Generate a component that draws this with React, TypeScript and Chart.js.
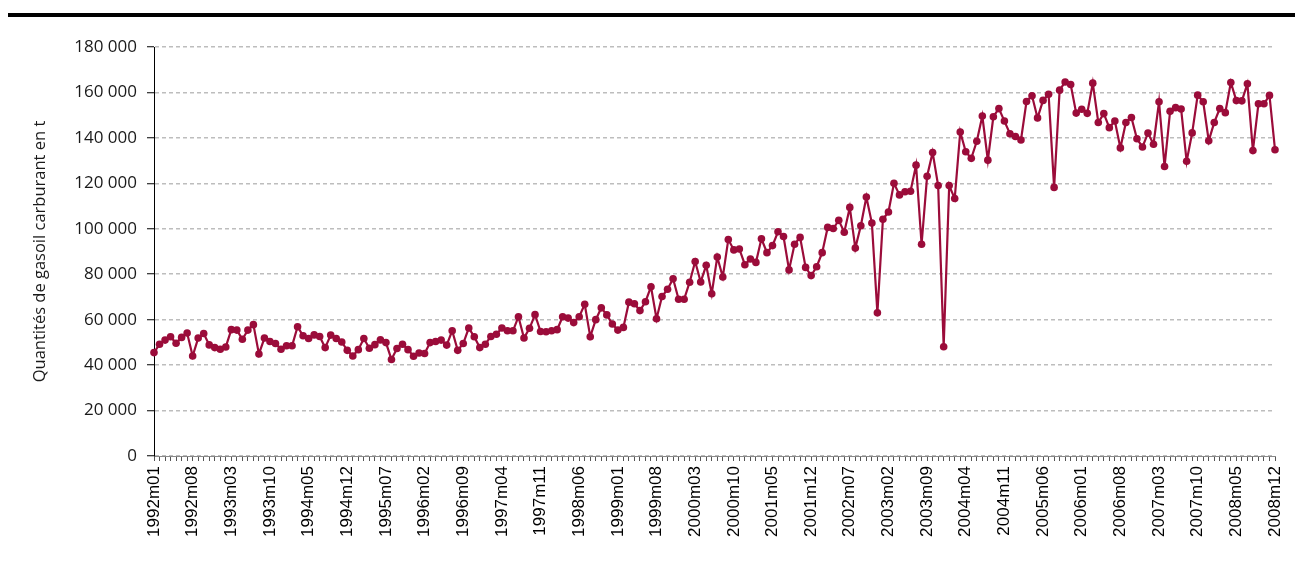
import React, { useEffect, useRef } from "react";
import { Chart, registerables } from "chart.js";

Chart.register(...registerables);

const years = [1992, 1993, 1994, 1995, 1996, 1997, 1998, 1999, 2000, 2001, 2002, 2003, 2004, 2005, 2006, 2007, 2008];
const months = ["01", "02", "03", "04", "05", "06", "07", "08", "09", "10", "11", "12"];
const categories = years.flatMap((y) => months.map((m) => `${y}m${m}`));

const tickLabels = [
  "1992m01", "1992m08", "1993m03", "1993m10", "1994m05", "1994m12", "1995m07", "1996m02",
  "1996m09", "1997m04", "1997m11", "1998m06", "1999m01", "1999m08", "2000m03", "2000m10",
  "2001m05", "2001m12", "2002m07", "2003m02", "2003m09", "2004m04", "2004m11", "2005m06",
  "2006m01", "2006m08", "2007m03", "2007m10", "2008m05", "2008m12",
];

const yTicks = [0, 20000, 40000, 60000, 80000, 100000, 120000, 140000, 160000, 180000];

const v1992 = [45500, 49200, 51000, 52500, 49600, 52200, 54100, 44000, 51900, 53900, 48900, 47700];
const v1993 = [47000, 48000, 55600, 55400, 51400, 55400, 57800, 44900, 51900, 50400, 49500, 47000];
const v1994 = [48500, 48500, 56900, 52900, 51700, 53300, 52600, 47700, 53200, 51700, 50200, 46500];
const v1995 = [44000, 46800, 51700, 47400, 49000, 51100, 49900, 42500, 47300, 49200, 46800, 43900];
const v1996 = [45300, 45100, 49900, 50400, 51000, 48800, 55100, 46500, 49500, 56300, 52500, 47700];
const v1997 = [49200, 52600, 53600, 56300, 55100, 55100, 61300, 51900, 56200, 62200, 54800, 54700];
const v1998 = [55100, 55600, 61300, 60700, 58700, 61300, 66800, 52500, 60000, 65200, 62100, 58100];
const v1999 = [55400, 56600, 67700, 67000, 64000, 67900, 74500, 60400, 70200, 73400, 78000, 69000];
const v2000 = [69000, 76500, 85600, 76600, 83900, 71400, 87600, 78800, 95300, 90700, 91100, 84200];
const v2001 = [86700, 85200, 95600, 89500, 92600, 98700, 96600, 81900, 93200, 96200, 83000, 79400];
const v2002 = [83300, 89500, 100600, 100100, 103700, 98500, 109400, 91500, 101300, 114000, 102500, 63000];
const v2003 = [104200, 107400, 120000, 114900, 116300, 116500, 128000, 93200, 123100, 133600, 119000, 48100];
const v2004 = [119000, 113300, 142600, 133900, 131000, 138500, 149600, 130200, 149300, 152900, 147400, 141800];
const v2005 = [140600, 139100, 156000, 158500, 148800, 156500, 159200, 118200, 161000, 164600, 163500, 150900];
const v2006 = [152600, 150800, 164100, 146800, 150700, 144500, 147400, 135600, 146800, 149000, 139600, 136000];
const v2007 = [142100, 137200, 155900, 127400, 151700, 153300, 152700, 129700, 142200, 158800, 155900, 138700];
const v2008 = [146800, 152900, 151100, 164400, 156400, 156300, 163800, 134400, 155000, 155000, 158700, 134800];

const values = [
  ...v1992, ...v1993, ...v1994, ...v1995, ...v1996, ...v1997, ...v1998, ...v1999, ...v2000,
  ...v2001, ...v2002, ...v2003, ...v2004, ...v2005, ...v2006, ...v2007, ...v2008,
];

const fmt = (v: number) => String(Math.round(v)).replace(/\B(?=(\d{3})+(?!\d))/g, " ");

export default function App() {
  const ref = useRef<HTMLCanvasElement | null>(null);

  useEffect(() => {
    if (!ref.current) return;
    const shown = new Set(tickLabels);
    const color = "#9b0c3a";
    const chart = new Chart(ref.current, {
      type: "line",
      data: {
        labels: categories,
        datasets: [
          {
            data: values,
            borderColor: color,
            backgroundColor: color,
            borderWidth: 2.2,
            pointRadius: 3.8,
            pointBorderWidth: 0,
            pointBackgroundColor: color,
            tension: 0,
          },
        ],
      },
      options: {
        animation: false,
        responsive: false,
        devicePixelRatio: 1,
        layout: { padding: { left: 0, top: 47, right: 20, bottom: 0 } },
        plugins: { legend: { display: false }, tooltip: { enabled: false } },
        scales: {
          x: {
            type: "category",
            offset: false,
            grid: {
              drawOnChartArea: false,
              drawTicks: true,
              tickLength: 5,
              color: "#7a7a7a",
              tickColor: "#555",
              tickWidth: 1,
            },
            border: { color: "#8a8a8a", width: 1 },
            ticks: {
              autoSkip: false,
              maxRotation: 90,
              minRotation: 90,
              padding: 5,
              color: "#000",
              font: { family: "Liberation Sans", size: 17 },
              callback: (_v: any, idx: number) => (shown.has(categories[idx]) ? categories[idx] : ""),
            },
            afterFit: (s: any) => {
              s.height = 118;
              s.paddingLeft = 0;
              s.paddingRight = 0;
            },
          },
          y: {
            min: 0,
            max: 180000,
            afterBuildTicks: (s: any) => {
              s.ticks = yTicks.map((v) => ({ value: v }));
            },
            ticks: {
              padding: 10,
              color: "#1a1a1a",
              font: { family: "Open Sans", size: 17 },
              callback: (v: any) => fmt(Number(v)),
            },
            grid: {
              color: "#bdbdbd",
              lineWidth: 1.5,
              tickLength: 7,
              tickColor: "#000",
              tickWidth: 1,
              tickBorderDash: [],
            },
            border: { color: "#000", width: 1, dash: [4, 3] },
            title: {
              display: true,
              text: "Quantités de gasoil carburant en t",
              color: "#1a1a1a",
              font: { family: "Open Sans", size: 16.5 },
              padding: { top: 30, bottom: 0 },
            },
            afterFit: (s: any) => {
              s.width = 154;
              s.paddingTop = 0;
              s.paddingBottom = 0;
            },
          },
        },
      },
    } as any);
    return () => chart.destroy();
  }, []);

  return (
    <div style={{ position: "absolute", left: 0, top: 0, width: 1295, height: 574, background: "#fff" }}>
      <div style={{ position: "absolute", left: 8, top: 13, width: 1287, height: 4, background: "#000" }} />
      <canvas ref={ref} width={1295} height={574} style={{ position: "absolute", left: 0, top: 0, width: 1295, height: 574 }} />
    </div>
  );
}
